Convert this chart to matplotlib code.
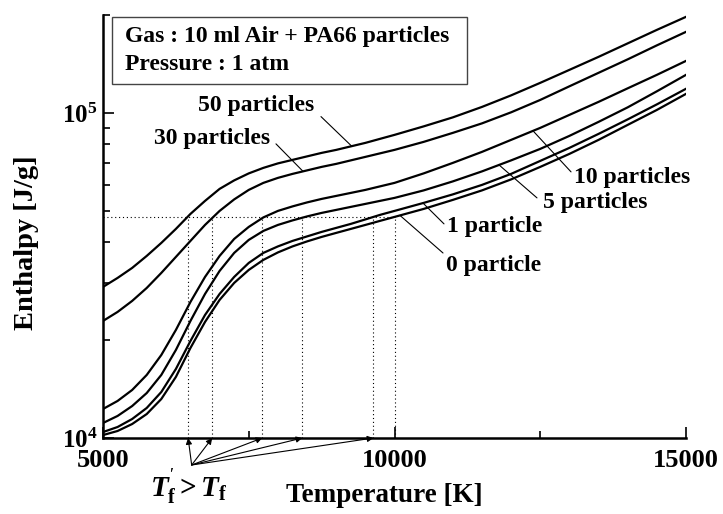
import numpy as np
import matplotlib
matplotlib.use("Agg")
from matplotlib import pyplot as plt
from matplotlib.ticker import FixedLocator, NullFormatter
from matplotlib.patches import Rectangle

# temperature grid [K] and enthalpy [J/g] per particle count
temperature = [5000, 5250, 5500, 5750, 6000, 6250, 6500, 6750, 7000, 7250, 7500,
               7750, 8000, 8250, 8500, 8750, 9000, 9250, 9500, 9750, 10000,
               10500, 11000, 11500, 12000, 12500, 13000, 13500, 14000, 14500, 15000]

h_50 = [29150, 31070, 33350, 36310, 39810, 43960, 48890, 53610, 58370, 61990, 65140,
        67730, 69920, 71680, 73480, 75320, 76940, 78870, 80850, 83180, 85570,
        90880, 96860, 104300, 113200, 123700, 135600, 148700, 163600, 180000, 197400]
h_30 = [22910, 24420, 26400, 28940, 32190, 36050, 40380, 45220, 49940, 54180, 57950,
        60900, 63100, 64910, 66540, 68210, 69680, 71430, 73220, 75060, 76940,
        81430, 86790, 92830, 100400, 109600, 120700, 132800, 146100, 161300, 177500]
h_10 = [12280, 13000, 14050, 15630, 18000, 21490, 26210, 31290, 36310, 40950, 44590,
        47690, 49940, 51560, 53040, 54370, 55540, 56730, 57950, 59410, 60900,
        65140, 70170, 75860, 82590, 89920, 98590, 108100, 119000, 130900, 144500]
h_5 = [11120, 11690, 12540, 13750, 15630, 18650, 22910, 27740, 32650, 37090, 40670,
       43340, 45220, 46690, 48030, 49240, 50300, 51380, 52480, 53610, 54760,
       57750, 61550, 66070, 71430, 77490, 84960, 93820, 104000, 116500, 130900]
h_1 = [10430, 10810, 11440, 12370, 13850, 16300, 19880, 23900, 27740, 31290, 34550,
       37090, 38840, 40380, 41690, 43040, 44280, 45550, 47020, 48550, 49940,
       52860, 56140, 60040, 64910, 71170, 78040, 86170, 95500, 106200, 118600]
h_0 = [10210, 10510, 11040, 11850, 13180, 15410, 18920, 22750, 26590, 29990, 32880,
       35300, 37220, 38840, 40240, 41540, 42740, 43960, 45220, 46530, 47860,
       50650, 53990, 57750, 62430, 68210, 74790, 82590, 91850, 102100, 114400]

curves = [h_50, h_30, h_10, h_5, h_1, h_0]
labels = ["50 particles", "30 particles", "10 particles", "5 particles", "1 particle", "0 particle"]

# label centres, leader ends and leader targets on the curves
label_T = [7624, 6870, 14074, 13439, 11724, 11707]
label_H = [105100, 83180, 63100, 52860, 44600, 33820]
leader_from_T = [8739, 7967, 13028, 12444, 10849, 10832]
leader_from_H = [97400, 80290, 65840, 54770, 45560, 37070]
leader_to_T = [9266, 8431, 12376, 11793, 10489, 10094]

# reference enthalpy and the temperatures where each curve reaches it
h_ref = 47700
t_f = [6460, 6873, 7732, 8419, 9639, 10000]
arrow_origin = (6521, 8260)

plt.rcParams["font.family"] = "Liberation Serif"
plt.rcParams["font.weight"] = "bold"
plt.rcParams["mathtext.fontset"] = "custom"
plt.rcParams["mathtext.rm"] = "Liberation Serif:bold"
plt.rcParams["mathtext.it"] = "Liberation Serif:italic:bold"
plt.rcParams["mathtext.bf"] = "Liberation Serif:bold"

fig = plt.figure(figsize=(7.23, 5.14), dpi=100)
ax = fig.add_axes([103 / 723, 76 / 514, 583 / 723, 423 / 514])

for h in curves:
    ax.plot(temperature, h, color="k", lw=1.6, solid_joinstyle="round")

ax.set_yscale("log")
ax.set_xlim(5000, 15000)
ax.set_ylim(1e4, 2e5)

# dotted guide lines
ax.plot([5000, t_f[-1]], [h_ref, h_ref], color="k", lw=0.8, ls=(0, (1, 2.5)))
for t in t_f:
    ax.plot([t, t], [1e4, h_ref], color="k", lw=0.8, ls=(0, (1, 2.5)))

# arrows to T_f positions
for t in t_f[:-1]:
    ax.annotate("", xy=(t, 1e4), xytext=arrow_origin, annotation_clip=False,
                arrowprops=dict(arrowstyle="-|>", lw=0.8, color="k",
                                mutation_scale=9, shrinkA=0, shrinkB=0))
ax.text(6475, 6630, r"$T_{\rm f}^{'} > T_{\rm f}$", fontsize=21,
        ha="center", va="baseline", clip_on=False)

# curve labels with leaders
for i, h in enumerate(curves):
    h_on = 10 ** np.interp(leader_to_T[i], temperature, np.log10(h))
    ax.annotate("", xy=(leader_to_T[i], h_on), xytext=(leader_from_T[i], leader_from_H[i]),
                arrowprops=dict(arrowstyle="-", lw=0.8, color="k", shrinkA=0, shrinkB=0))
    ax.text(label_T[i], label_H[i], labels[i], fontsize=17, fontweight="bold",
            ha="center", va="center")

# info box
ax.add_patch(Rectangle((0.0154, 0.8369), 0.609, 0.1584, transform=ax.transAxes,
                       fill=False, lw=1.0, ec="#444444", clip_on=False))
ax.text(0.0377, 0.948, "Gas : 10 ml Air + PA66 particles", transform=ax.transAxes,
        fontsize=17, fontweight="bold", va="center")
ax.text(0.0377, 0.884, "Pressure : 1 atm", transform=ax.transAxes,
        fontsize=17, fontweight="bold", va="center")

for side in ["top", "right"]:
    ax.spines[side].set_visible(False)
for side in ["left", "bottom"]:
    ax.spines[side].set_linewidth(1.8)

ax.xaxis.set_major_locator(FixedLocator([5000, 10000, 15000]))
ax.xaxis.set_minor_locator(FixedLocator([7500, 12500]))
ax.set_xticklabels(["5000", "10000", "15000"])
ax.yaxis.set_major_locator(FixedLocator([1e4, 1e5]))
ax.yaxis.set_minor_locator(FixedLocator([2e4, 3e4, 4e4, 5e4, 6e4, 7e4, 8e4, 9e4, 2e5]))
ax.yaxis.set_minor_formatter(NullFormatter())
ax.set_yticklabels([r"$\mathbf{10^{4}}$", r"$\mathbf{10^{5}}$"])
ax.tick_params(axis="x", which="major", labelsize=19, pad=8)
ax.tick_params(axis="y", which="major", labelsize=18, pad=4)
ax.tick_params(which="both", direction="in", width=1.2)
ax.tick_params(which="major", length=8)
ax.tick_params(which="minor", length=5)
for lab in ax.get_xticklabels() + ax.get_yticklabels():
    lab.set_fontweight("bold")

ax.set_xlabel("Temperature [K]", fontsize=19.5, fontweight="bold")
ax.xaxis.set_label_coords(0.482, -0.107)
ax.set_ylabel("Enthalpy [J/g]", fontsize=20.5, fontweight="bold")
ax.yaxis.set_label_coords(-0.109, 0.461)

fig.savefig("out.png", dpi=100)
